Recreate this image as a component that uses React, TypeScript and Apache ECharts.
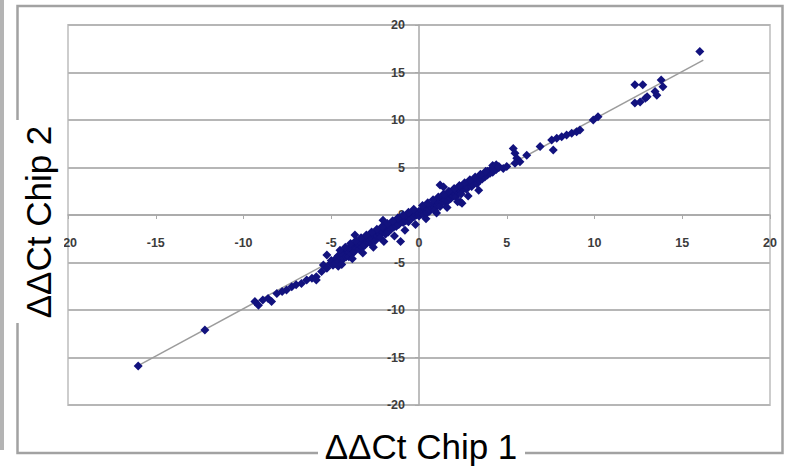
import React, { useEffect, useRef } from "react";
import * as echarts from "echarts";

// ΔΔCt values measured on chip 1 (x) against chip 2 (y)
const lowTailX = [-16.0, -12.2, -9.35, -9.15, -8.9, -8.6, -8.4, -8.1, -7.8, -7.55, -7.25, -7.0, -6.7, -6.4, -6.1, -5.85, -5.85, -5.55, -5.45, -5.25, -5.25, -5.05];
const lowTailY = [-15.9, -12.1, -9.1, -9.5, -8.95, -8.8, -9.1, -8.25, -8.05, -7.9, -7.55, -7.35, -7.2, -6.85, -6.65, -6.5, -6.85, -5.95, -5.25, -5.6, -4.2, -5.1];

const coreNegX = [
  -5.0, -4.9, -4.75, -4.75, -4.6, -4.6, -4.6, -4.45, -4.45, -4.3, -4.3, -4.3, -4.15, -4.15, -4.0, -4.0, -4.0,
  -3.85, -3.85, -3.7, -3.7, -3.65, -3.55, -3.55, -3.4, -3.4, -3.4, -3.25, -3.25, -3.1, -3.1, -3.1, -2.95, -2.95,
  -2.8, -2.8, -2.8, -2.65, -2.65, -2.5, -2.5, -2.5, -2.35, -2.35, -2.2, -2.2, -2.2, -2.05, -2.05, -2.05,
  -1.9, -1.9, -1.9, -1.75, -1.75, -1.6, -1.6, -1.6, -1.45, -1.45, -1.3, -1.3, -1.3, -1.15, -1.15, -1.05, -1.05,
  -0.9, -0.9, -0.9, -0.75, -0.75, -0.6, -0.6, -0.6, -0.45, -0.45, -0.3, -0.3, -0.3, -0.15, -0.15,
];
const coreNegY = [
  -4.8, -5.3, -4.6, -5.1, -4.3, -4.9, -5.4, -4.5, -4.1, -4.6, -3.9, -4.2, -4.4, -3.7, -3.9, -4.4, -3.5,
  -3.6, -4.1, -3.3, -3.9, -2.1, -3.5, -3.0, -3.6, -3.1, -2.8, -3.0, -3.4, -2.7, -3.2, -2.4, -2.9, -2.5,
  -2.3, -2.9, -2.6, -2.6, -2.1, -2.2, -2.7, -1.9, -2.3, -1.8, -2.0, -1.6, -2.4, -0.55, -1.8, -1.4,
  -1.5, -2.0, -1.2, -1.3, -1.8, -1.0, -1.5, -1.2, -1.3, -0.8, -0.9, -1.2, -0.6, -1.0, -0.5, -2.8, -0.7,
  -0.4, -0.8, -0.2, -0.6, -0.1, -0.3, 0.1, -0.7, 0.0, -0.4, 0.2, -0.2, 0.4, 0.0, 0.3,
];

const corePosX = [
  0.0, 0.0, 0.0, 0.15, 0.15, 0.3, 0.3, 0.3, 0.45, 0.45, 0.6, 0.6, 0.6, 0.75, 0.75, 0.9, 0.9, 0.9, 1.05, 1.05,
  1.2, 1.2, 1.2, 1.2, 1.35, 1.35, 1.4, 1.5, 1.5, 1.5, 1.65, 1.65, 1.8, 1.8, 1.8, 1.95, 1.95, 2.1, 2.1, 2.1,
  2.25, 2.25, 2.35, 2.4, 2.4, 2.4, 2.45, 2.55, 2.55, 2.7, 2.7, 2.7, 2.85, 2.85, 3.0, 3.0, 3.0, 3.15, 3.15,
  3.3, 3.3, 3.45, 3.45, 3.6, 3.6, 3.75, 3.75, 3.9, 3.9, 4.05, 4.05, 4.2, 4.2, 4.2, 4.4, 4.4, 4.55, 4.55, 4.8, 5.0,
];
const corePosY = [
  0.4, -0.1, 0.2, 0.5, 0.1, 0.3, 0.7, 0.0, 0.6, 0.2, 0.9, 0.4, 0.6, 0.7, 1.1, 0.8, 1.2, 0.5, 1.0, 1.4,
  1.1, 1.5, 3.15, 0.9, 1.4, 1.7, 2.95, 1.3, 1.8, 1.6, 1.9, 1.5, 1.7, 2.1, 2.3, 2.0, 2.4, 2.2, 2.6, 1.9,
  2.4, 2.8, 1.4, 2.5, 2.9, 2.2, 1.25, 2.8, 3.1, 2.7, 3.2, 3.0, 3.2, 3.4, 3.0, 3.5, 3.3, 3.4, 3.7,
  3.6, 3.3, 3.9, 3.6, 3.8, 4.2, 4.0, 4.4, 4.2, 4.6, 4.7, 4.4, 4.5, 4.9, 5.2, 5.3, 4.8, 5.0, 5.1, 4.9, 5.1,
];

// Genes lying towards the edges of the central band
const coreSpreadX = [
  -4.5, -4.2, -3.9, -3.6, -3.3, -3.0, -2.7, -2.4, -2.1, -1.8, -1.5, -1.2, -0.9, -0.6, -0.3, 0.2, 0.5, 0.8, 1.1, 1.4, 1.7,
  2.0, 2.3, 2.6, 2.9, 3.2, 3.5, 3.8, -4.4, -3.8, -3.2, -2.6, -2.0, -1.4, -0.8, -0.2, 0.4, 1.0, 1.6, 2.2, 2.8, 3.4,
];
const coreSpreadY = [
  -3.7, -3.4, -3.0, -2.7, -2.4, -2.1, -1.8, -1.5, -1.2, -0.9, -0.6, -0.3, 0.0, 0.3, 0.6, 1.0, 1.3, 1.6, 1.9, 2.2, 2.5,
  2.8, 3.1, 3.4, 3.7, 4.0, 4.3, 4.6, -5.2, -4.6, -4.0, -3.4, -2.8, -2.2, -1.6, -1.0, -0.4, 0.2, 0.8, 1.4, 2.0, 2.6,
];

const highTailX = [5.37, 5.47, 5.57, 5.75, 5.47, 6.14, 6.9, 7.65, 7.56, 7.85, 8.13, 8.41, 8.7, 8.98, 9.17, 9.93, 10.2, 12.3, 12.75, 13.8, 13.9, 13.45, 13.55, 12.3, 12.6, 12.9, 13.0, 16.0];
const highTailY = [7.0, 6.5, 5.97, 5.6, 5.44, 6.3, 7.2, 6.84, 7.9, 8.07, 8.24, 8.42, 8.6, 8.77, 8.95, 10.0, 10.35, 13.7, 13.7, 14.2, 13.5, 13.0, 12.6, 11.8, 11.9, 12.3, 12.45, 17.2];

// Linear trend line end points
const trendX = [-16.0, 16.2];
const trendY = [-15.85, 16.3];

// Shared range of both axes: min, max, step
const axisTicks = [-20, 20, 5];

const pair = (xs: number[], ys: number[]) => xs.map((x, i) => [x, ys[i]]);

const FONT = "'Liberation Sans', Arial, sans-serif";

export default function App() {
  const ref = useRef<HTMLDivElement>(null);

  useEffect(() => {
    if (!ref.current) return;
    const chart = echarts.init(ref.current, undefined, { renderer: "svg" });
    const points = [
      ...pair(lowTailX, lowTailY),
      ...pair(coreNegX, coreNegY),
      ...pair(corePosX, corePosY),
      ...pair(coreSpreadX, coreSpreadY),
      ...pair(highTailX, highTailY),
    ];
    const [axMin, axMax, axStep] = axisTicks;
    const axisLabel = { color: "#3c3c3c", fontSize: 12.5, fontWeight: "bold", fontFamily: FONT };

    // plot box: 68..770 horizontally, 25..405 vertically; axes cross at its centre
    chart.setOption({
      animation: false,
      backgroundColor: "#ffffff",
      grid: {
        left: 68,
        right: 20,
        top: 25,
        bottom: 64,
        show: true,
        borderColor: "#cdcdcd",
        borderWidth: 2,
      },
      xAxis: {
        type: "value",
        position: "bottom",
        offset: -190,
        min: axMin,
        max: axMax,
        interval: axStep,
        axisLine: { onZero: false, lineStyle: { color: "#a9a9a9", width: 1.5 } },
        axisTick: { show: true, length: 4, lineStyle: { color: "#a9a9a9" } },
        axisLabel: { ...axisLabel, margin: 21 },
        splitLine: { show: false },
      },
      yAxis: {
        type: "value",
        position: "left",
        offset: -351,
        min: axMin,
        max: axMax,
        interval: axStep,
        axisLine: { onZero: false, lineStyle: { color: "#a9a9a9", width: 1.5 } },
        axisTick: { show: true, length: 4, lineStyle: { color: "#a9a9a9" } },
        axisLabel: { ...axisLabel, margin: 14 },
        splitLine: { show: true, lineStyle: { color: "#b6b6b6", width: 2 } },
      },
      series: [
        {
          type: "line",
          data: pair(trendX, trendY),
          showSymbol: false,
          symbol: "none",
          lineStyle: { color: "#9c9c9c", width: 1.5 },
          z: 2,
          silent: true,
        },
        {
          type: "scatter",
          data: points,
          symbol: "diamond",
          symbolSize: 9,
          itemStyle: { color: "#12127e", opacity: 1 },
          z: 3,
        },
      ],
      graphic: [
        {
          type: "rect",
          shape: { x: 0, y: 0, width: 4, height: 450 },
          style: { fill: "#b4b4b4" },
          z: 50,
        },
        {
          type: "rect",
          shape: { x: 17.5, y: 6, width: 765, height: 447 },
          style: { fill: "none", stroke: "#a2a2a2", lineWidth: 2.5 },
          z: 50,
        },
        {
          type: "rect",
          shape: { x: 13, y: 120, width: 51, height: 203 },
          style: { fill: "#ffffff" },
          z: 100,
        },
        {
          type: "text",
          x: 38,
          y: 222,
          rotation: Math.PI / 2,
          style: {
            text: "ΔΔCt Chip 2",
            font: `35px ${FONT}`,
            fill: "#000",
            align: "center",
            verticalAlign: "middle",
          },
          z: 101,
        },
        {
          type: "rect",
          shape: { x: 318, y: 428, width: 207, height: 38 },
          style: { fill: "#ffffff" },
          z: 100,
        },
        {
          type: "text",
          x: 421,
          y: 446,
          style: {
            text: "ΔΔCt Chip 1",
            font: `35px ${FONT}`,
            fill: "#000",
            align: "center",
            verticalAlign: "middle",
          },
          z: 101,
        },
      ],
    });
    return () => chart.dispose();
  }, []);

  return (
    <div
      ref={ref}
      style={{ position: "absolute", left: 0, top: 0, width: 790, height: 469 }}
    />
  );
}
